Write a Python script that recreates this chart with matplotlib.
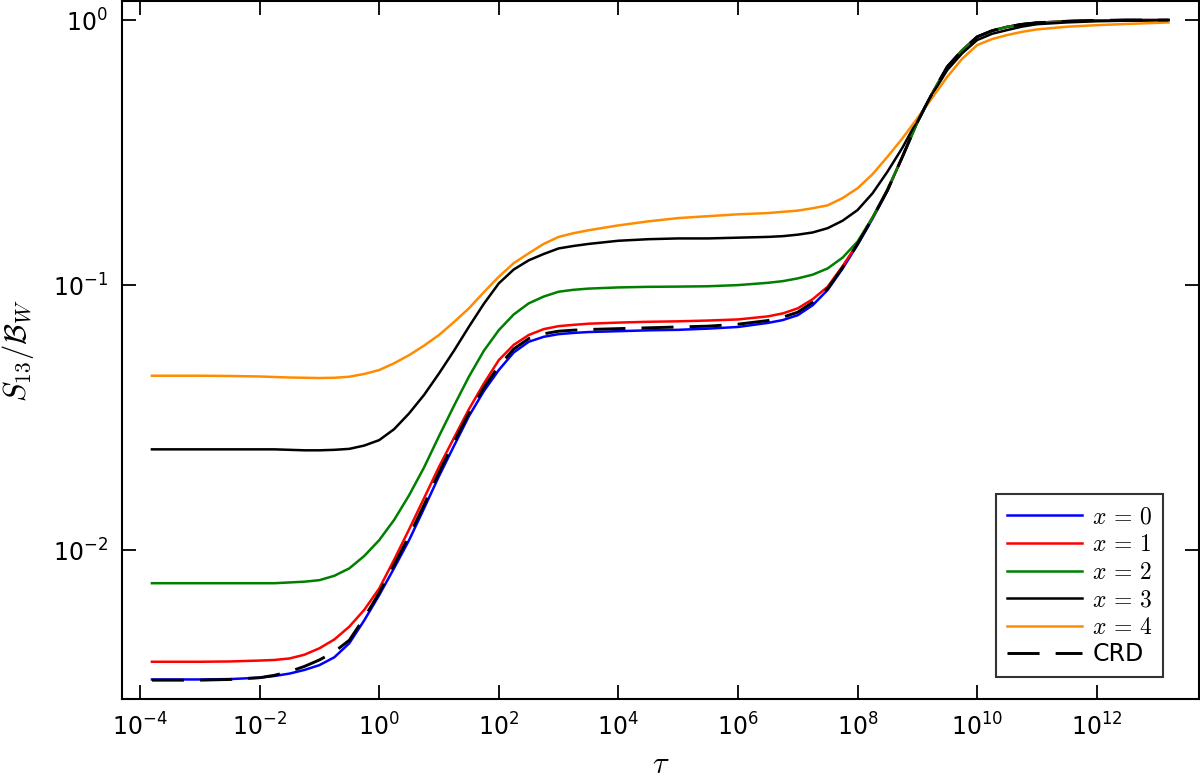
import numpy as np
import matplotlib
matplotlib.use("Agg")
import matplotlib.pyplot as plt
from matplotlib.ticker import NullLocator

plt.rcParams['mathtext.fontset'] = 'cm'

# log10(tau) sampling points
log_tau = [-3.8, -3.0, -2.5, -2.0,
           -1.75, -1.5, -1.25, -1.0, -0.75, -0.5, -0.25, 0.0, 0.25, 0.5, 0.75,
           1.0, 1.25, 1.5, 1.75, 2.0, 2.25, 2.5, 2.75, 3.0, 3.25, 3.5,
           4.0, 4.5, 5.0, 5.5, 6.0, 6.5,
           6.75, 7.0, 7.25, 7.5, 7.75, 8.0, 8.25, 8.5, 8.75, 9.0, 9.25, 9.5,
           9.75, 10.0, 10.25, 10.5, 10.75, 11.0,
           11.5, 12.0, 12.5, 13.0, 13.2]

s_x0 = [0.00325, 0.00325, 0.00326, 0.00330,
        0.00335, 0.00342, 0.00353, 0.00368, 0.00394, 0.00445, 0.00543, 0.00676,
        0.00855, 0.0109, 0.01436, 0.0190, 0.0247, 0.0320, 0.0398, 0.0478,
        0.0557, 0.0611, 0.0638, 0.0653, 0.0660, 0.0665,
        0.0670, 0.0675, 0.0678, 0.0685, 0.0695, 0.0720,
        0.0738, 0.0770, 0.0840, 0.0959, 0.1155, 0.142, 0.178, 0.227, 0.305,
        0.413, 0.530, 0.667, 0.770, 0.865, 0.912, 0.943, 0.964, 0.977,
        0.990, 0.997, 1.0, 1.0, 1.0]
s_x1 = [0.00379, 0.00379, 0.00380, 0.00383,
        0.00385, 0.00390, 0.00403, 0.00426, 0.00460, 0.00514, 0.00595, 0.00716,
        0.00920, 0.01197, 0.0157, 0.0206, 0.0265, 0.0340, 0.0425, 0.0521,
        0.0595, 0.0648, 0.0682, 0.0700, 0.0708, 0.0715,
        0.0722, 0.0727, 0.0730, 0.0735, 0.0742, 0.0762,
        0.0782, 0.0817, 0.0885, 0.0986, 0.118, 0.1436, 0.180, 0.228, 0.305,
        0.413, 0.530, 0.667, 0.770, 0.865, 0.912, 0.943, 0.964, 0.977,
        0.990, 0.997, 1.0, 1.0, 1.0]
s_x2 = [0.0075, 0.0075, 0.0075, 0.0075,
        0.0075, 0.00755, 0.0076, 0.0077, 0.0080, 0.00853, 0.0095, 0.0109,
        0.0130, 0.0161, 0.0205, 0.0269, 0.0350, 0.0451, 0.0565, 0.0676,
        0.0775, 0.0853, 0.0905, 0.0944, 0.0960, 0.0970,
        0.0980, 0.0985, 0.0987, 0.0990, 0.1000, 0.1020,
        0.1035, 0.1060, 0.1095, 0.1156, 0.127, 0.146, 0.180, 0.230, 0.305,
        0.410, 0.530, 0.667, 0.770, 0.865, 0.912, 0.943, 0.964, 0.977,
        0.990, 0.997, 1.0, 1.0, 1.0]
s_x3 = [0.0240, 0.0240, 0.0240, 0.0240,
        0.0240, 0.0239, 0.0238, 0.0238, 0.0239, 0.0241, 0.0248, 0.0260,
        0.0286, 0.0328, 0.0385, 0.0464, 0.0565, 0.0696, 0.0850, 0.1015,
        0.1145, 0.124, 0.131, 0.1375, 0.1405, 0.143,
        0.147, 0.149, 0.150, 0.150, 0.151, 0.152,
        0.153, 0.155, 0.158, 0.164, 0.175, 0.192, 0.222, 0.268, 0.330,
        0.419, 0.525, 0.648, 0.750, 0.841, 0.888, 0.917, 0.945, 0.965,
        0.980, 0.990, 0.995, 0.998, 1.0]
s_x4 = [0.0455, 0.0455, 0.0454, 0.0452,
        0.0450, 0.0448, 0.0447, 0.0446, 0.0447, 0.0451, 0.0462, 0.0478,
        0.0507, 0.0544, 0.0591, 0.0648, 0.0725, 0.0817, 0.0940, 0.1075,
        0.121, 0.1318, 0.143, 0.152, 0.157, 0.161,
        0.168, 0.174, 0.179, 0.182, 0.185, 0.187,
        0.189, 0.191, 0.195, 0.200, 0.213, 0.232, 0.262, 0.305, 0.358,
        0.426, 0.510, 0.611, 0.715, 0.805, 0.848, 0.878, 0.903, 0.922,
        0.944, 0.957, 0.967, 0.976, 0.980]
s_crd = [0.00323, 0.00323, 0.00325, 0.00330,
         0.00337, 0.00348, 0.00364, 0.00385, 0.00413, 0.00457, 0.00555, 0.0069,
         0.0088, 0.0113, 0.0148, 0.0196, 0.0255, 0.0328, 0.0410, 0.0495,
         0.0574, 0.0628, 0.0655, 0.0670, 0.0676, 0.0680,
         0.0685, 0.0690, 0.0695, 0.0700, 0.0712, 0.0735,
         0.0757, 0.0790, 0.0862, 0.0970, 0.1165, 0.143, 0.179, 0.228, 0.305,
         0.413, 0.530, 0.667, 0.770, 0.865, 0.912, 0.943, 0.964, 0.977,
         0.990, 0.997, 1.0, 1.0, 1.0]

labels = [r'$x\,=\,0$', r'$x\,=\,1$', r'$x\,=\,2$', r'$x\,=\,3$', r'$x\,=\,4$', 'CRD']
colors = ['#0000ff', '#ff0000', '#007f00', '#000000', '#ff8c00', '#000000']
x_ticks = [1e-4, 1e-2, 1e0, 1e2, 1e4, 1e6, 1e8, 1e10, 1e12]
y_ticks = [1e-2, 1e-1, 1e0]

tau = 10.0 ** np.array(log_tau)

fig = plt.figure(figsize=(12.0, 7.78), dpi=100)
ax = fig.add_axes([0.1017, 0.1015, 0.8975, 0.8972])

series = [s_x0, s_x1, s_x2, s_x3, s_x4]
for s, lab, c in zip(series, labels[:5], colors[:5]):
    ax.plot(tau, s, color=c, lw=1.8, label=lab, solid_joinstyle='round')
ax.plot(tau, s_crd, color=colors[5], lw=2.1, ls=(0, (11, 5.5)), label=labels[5])

ax.set_xscale('log')
ax.set_yscale('log')
ax.set_xlim(10 ** -4.30, 10 ** 13.71)
ax.set_ylim(10 ** -2.562, 10 ** 0.072)

ax.set_xticks(x_ticks)
ax.set_yticks(y_ticks)
ax.xaxis.set_minor_locator(NullLocator())
ax.yaxis.set_minor_locator(NullLocator())

ax.tick_params(which='major', direction='in', length=10, width=1.3,
               top=True, right=True, labelsize=17, pad=10)
for sp in ax.spines.values():
    sp.set_linewidth(1.5)

ax.set_xlabel(r'$\tau$', fontsize=22, labelpad=7)
ax.set_ylabel(r'$S_{13}/\mathcal{B}_W$', fontsize=22, labelpad=12)

leg = ax.legend(loc='lower right', bbox_to_anchor=(0.9666, 0.0315),
                borderaxespad=0.0,
                fontsize=17, frameon=True, fancybox=False,
                handlelength=3.2, handletextpad=0.42, labelspacing=0.15,
                borderpad=0.45)
leg.get_frame().set_edgecolor('black')
leg.get_frame().set_linewidth(1.5)

fig.savefig('out.png', dpi=100)
